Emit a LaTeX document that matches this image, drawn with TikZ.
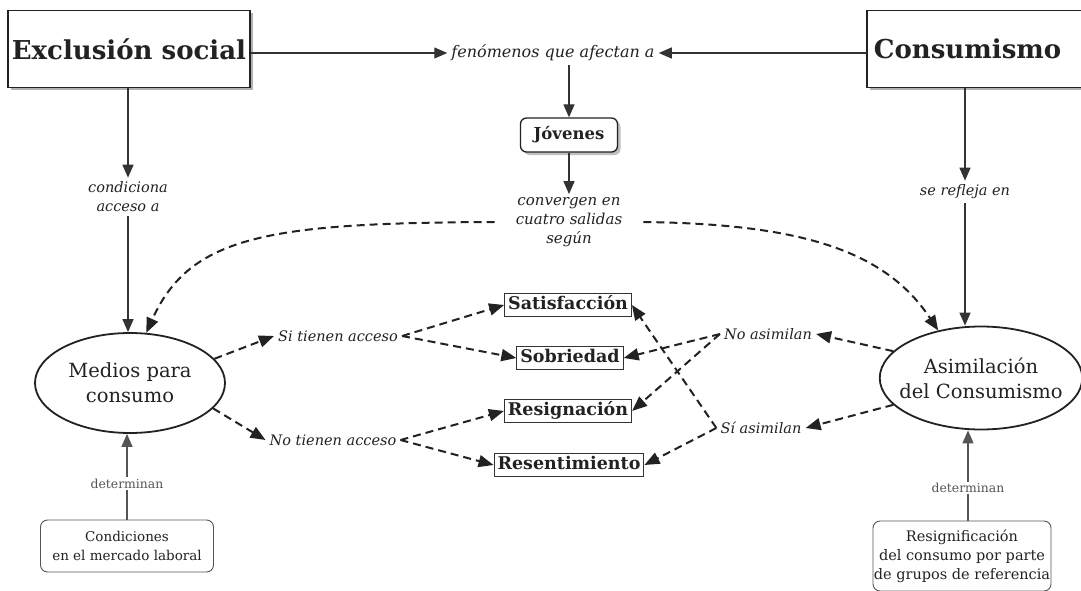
\documentclass[tikz,border=0pt]{standalone}
\usepackage{fontspec}
\setmainfont{DejaVu Serif}
\usetikzlibrary{arrows.meta,shapes.geometric,shadows}
\definecolor{ink}{HTML}{222222}
\definecolor{lineg}{HTML}{333333}
\definecolor{detg}{HTML}{555555}
\begin{document}
\begin{tikzpicture}[x=1pt,y=-1pt,
  bigbox/.style={draw=ink, line width=1.8pt, fill=white, text=ink,
    drop shadow={shadow xshift=3pt, shadow yshift=-3pt, fill=black!30, opacity=1},
    font=\fontsize{26}{30}\selectfont\bfseries, inner sep=0pt},
  jovbox/.style={draw=ink, line width=1.3pt, fill=white, text=ink, rounded corners=6pt,
    drop shadow={shadow xshift=3pt, shadow yshift=-3pt, fill=black!25, opacity=1},
    font=\fontsize{16.5}{20}\selectfont\bfseries, inner sep=0pt},
  outbox/.style={draw=lineg, line width=1pt, fill=white, text=ink,
    font=\fontsize{17.5}{21}\selectfont\bfseries, inner xsep=3.5pt, inner ysep=3pt,
    text height=13.3pt, text depth=3.5pt},
  oval/.style={ellipse, draw=ink, line width=1.8pt, text=ink, align=center,
    font=\fontsize{19.5}{25}\selectfont, inner sep=0pt},
  smallbox/.style={draw=detg, line width=0.9pt, rounded corners=7pt, text=ink, align=center,
    inner sep=0pt},
  lab/.style={text=ink, font=\fontsize{14.5}{19}\selectfont\itshape, align=center, inner sep=4pt},
  detlab/.style={text=detg, fill=white, font=\fontsize{12.4}{14}\selectfont, inner sep=1.5pt},
  sarrow/.style={draw=lineg, line width=1.3pt, -{Triangle[length=13pt,width=11pt]}},
  garrow/.style={draw=detg, line width=1.2pt, -{Triangle[length=13pt,width=11pt]}},
  darrow/.style={draw=ink, line width=2pt, dash pattern=on 8pt off 5pt,
    -{Triangle[length=15pt,width=12pt]}}
]
\useasboundingbox (0,0) rectangle (1081,591);
\fill[white] (0,0) rectangle (1081,591);
\clip (0,0) rectangle (1081,591);

% main boxes
\node[bigbox, minimum width=242pt, minimum height=77pt] (excl) at (129,49) {Exclusión social};
\node[bigbox, anchor=west, minimum height=77pt, text width=205pt, inner xsep=7pt, align=left] (cons) at (866,49) {Consumismo};
\node[lab, font=\fontsize{16}{19}\selectfont\itshape] (fen) at (553,53) {fenómenos que afectan a};
\node[jovbox, minimum width=97pt, minimum height=34pt] (jov) at (569,135) {Jóvenes};
\node[lab, font=\fontsize{15}{19}\selectfont\itshape, inner xsep=21pt, inner ysep=3pt] (conv) at (569,222) {convergen en\\cuatro salidas\\según};

% side labels
\node[lab] (condlab) at (128,197) {condiciona\\acceso a};
\node[lab] (refl) at (965,192) {se refleja en};

% ellipses
\node[oval, minimum width=190pt, minimum height=100pt] (medios) at (130,383) {Medios para\\consumo};
\node[oval, minimum width=197pt, minimum height=103pt, inner xsep=-10pt] (asim) at (981,378) {Asimilación\\del Consumismo};

% outcomes
\node[outbox] (sat) at (568,305) {Satisfacción};
\node[outbox] (sob) at (570,358) {Sobriedad};
\node[outbox] (resig) at (568,411) {Resignación};
\node[outbox] (resen) at (569,465) {Resentimiento};

% branch labels
\node[lab] (si) at (338,336) {Si tienen acceso};
\node[lab] (no) at (333,440) {No tienen acceso};
\node[lab] (noas) at (768,334) {No asimilan};
\node[lab] (sias) at (761,428) {Sí asimilan};

% bottom boxes
\node[smallbox, font=\fontsize{13.5}{19}\selectfont, minimum width=173pt, minimum height=52pt] (cond) at (127,546) {Condiciones\\en el mercado laboral};
\node[smallbox, font=\fontsize{14.5}{19}\selectfont, minimum width=178pt, minimum height=70pt] (resbox) at (962,556) {Resignificación\\del consumo por parte\\de grupos de referencia};

% solid connectors
\draw[sarrow] (excl.east |- fen.west) -- (fen.west);
\draw[sarrow] (cons.west |- fen.east) -- (fen.east);
\draw[sarrow] (jov.north |- fen.south) -- (jov.north);
\draw[sarrow] (jov.south) -- (conv.north);
\draw[sarrow] (condlab.north |- excl.south) -- (condlab.north);
\draw[sarrow] (condlab.south) -- (condlab.south |- medios.north);
\draw[sarrow] (refl.north |- cons.south) -- (refl.north);
\draw[sarrow] (refl.south) -- (refl.south |- asim.north);
\draw[garrow] (cond.north) -- node[detlab, pos=0.42] (det1) {determinan} (cond.north |- medios.south);
\coordinate (rtop) at ([xshift=6pt]resbox.north);
\draw[garrow] (rtop) -- node[detlab, pos=0.36] (det2) {determinan} (rtop |- asim.south);

% dashed curves
\draw[darrow] (conv.west) .. controls (270,223) and (190,235) .. (medios.72);
\draw[darrow] (conv.east) .. controls (800,224) and (885,250) .. (asim.132);

% dashed branches
\draw[darrow] (medios.16) -- (si.west);
\draw[darrow] (si.east) -- (sat.west);
\draw[darrow] (si.east) -- (sob.west);
\draw[darrow] (medios.-17) -- (no.west);
\draw[darrow] (no.east) -- (resig.west);
\draw[darrow] (no.east) -- (resen.west);
\draw[darrow] (asim.163) -- (noas.east);
\draw[darrow] (noas.west) -- (sob.east);
\draw[darrow] (noas.west) -- (resig.east);
\draw[darrow] (asim.197) -- (sias.east);
\draw[darrow] (sias.west) -- (sat.east);
\draw[darrow] (sias.west) -- (resen.east);
\end{tikzpicture}
\end{document}
